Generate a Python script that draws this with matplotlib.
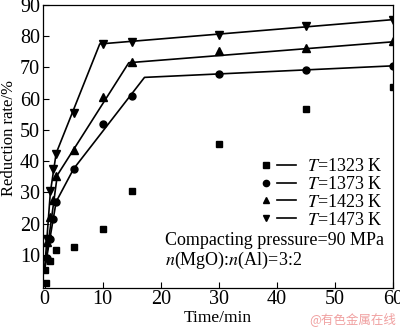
import matplotlib
matplotlib.use("Agg")
import matplotlib.pyplot as plt
from matplotlib.lines import Line2D
from matplotlib.legend_handler import HandlerTuple

plt.rcParams['font.family'] = ['Liberation Serif', 'DejaVu Serif']
plt.rcParams['mathtext.fontset'] = 'stix'

# Measured points
t_1323 = [0, 0.3, 1, 2, 5, 10, 15, 30, 45, 60]
v_1323 = [5, 1, 8, 11.6, 12.5, 18.4, 30.3, 45.6, 56.7, 63.8]

t_1373 = [0.5, 1, 1.5, 2, 5, 10, 15, 30, 45, 60]
v_1373 = [9, 15, 21.5, 27, 37.5, 51.8, 60.7, 68, 69.2, 70.6]

t_1423 = [0.5, 1, 1.5, 2, 5, 10, 15, 30, 45, 60]
v_1423 = [14, 22, 27.5, 35.3, 43.4, 60.5, 71.7, 75.2, 76.3, 78.3]

t_1473 = [0.5, 1, 1.5, 2, 5, 10, 15, 30, 45, 60]
v_1473 = [15, 30.5, 37.5, 42.3, 55.3, 77.5, 78.1, 80.5, 83.3, 85.3]

# Fitted (piecewise) curves
ft_1373 = [0, 2, 5, 17.2, 60]
fv_1373 = [5, 27, 37.5, 66.8, 70.5]
ft_1423 = [0, 2.2, 14.5, 60]
fv_1423 = [5, 35.5, 71.5, 78.2]
ft_1473 = [0, 1, 2, 9.5, 60]
fv_1473 = [5, 30, 42.5, 77.5, 85.3]

labels = ['$T$=1323 K', '$T$=1373 K', '$T$=1423 K', '$T$=1473 K']
x_ticks = [0, 10, 20, 30, 40, 50, 60]
y_ticks = [10, 20, 30, 40, 50, 60, 70, 80, 90]

fig = plt.figure(figsize=(4.0, 3.29), dpi=100)
ax = fig.add_axes([0.107, 0.126, 0.876, 0.859])

lw = 1.2
ax.plot(ft_1373, fv_1373, color='black', lw=lw)
ax.plot(ft_1423, fv_1423, color='black', lw=lw)
ax.plot(ft_1473, fv_1473, color='black', lw=lw)

ax.plot(t_1323, v_1323, 's', color='black', ms=4.5, ls='none')
ax.plot(t_1373, v_1373, 'o', color='black', ms=5, ls='none')
ax.plot(t_1423, v_1423, '^', color='black', ms=5.5, ls='none')
ax.plot(t_1473, v_1473, 'v', color='black', ms=5.5, ls='none')

ax.set_xlim(-0.3, 60)
ax.set_ylim(-0.5, 90)
ax.set_xticks(x_ticks)
ax.set_yticks(y_ticks)
ax.tick_params(direction='in', length=4, width=0.8, labelsize=14.5, pad=2,
               top=False, right=False)
for s in ax.spines.values():
    s.set_linewidth(0.9)

ax.set_xlabel('Time/min', fontsize=12.5, va='top')
ax.xaxis.set_label_coords(0.5, -0.08)
ax.set_ylabel('Reduction rate/%', fontsize=12)
ax.yaxis.set_label_coords(-0.075, 0.53)

handles = []
for m in ['s', 'o', '^', 'v']:
    mk = Line2D([], [], marker=m, color='black', ls='none', ms=4.5)
    ln = Line2D([], [], color='black', lw=lw)
    handles.append((mk, ln))
ax.legend(handles, labels, handler_map={tuple: HandlerTuple(ndivide=None, pad=0.1)},
          loc='lower right', bbox_to_anchor=(1.0, 0.17), frameon=False,
          fontsize=13, handlelength=2.2, handletextpad=0.6,
          labelspacing=0.05, borderaxespad=0.2)

ax.text(0.35, 0.165, 'Compacting pressure=90 MPa', transform=ax.transAxes,
        fontsize=13, ha='left', va='center')
ax.text(0.35, 0.095, '$n$(MgO):$n$(Al)=3:2', transform=ax.transAxes,
        fontsize=13, ha='left', va='center')

fig.text(0.99, 0.01, '@有色金属在线', fontsize=9, color='#f0a0a0',
         ha='right', va='bottom', family=['Noto Sans CJK SC', 'DejaVu Sans'])

fig.savefig('out.png', dpi=100)
